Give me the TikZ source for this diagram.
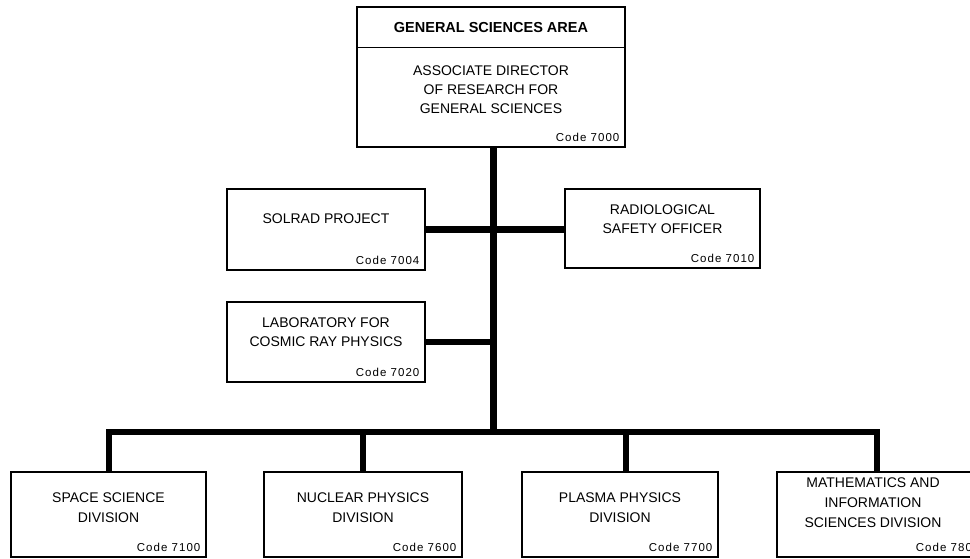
\documentclass[tikz,border=0pt]{standalone}
\usepackage{fontspec}
\setmainfont{Liberation Sans}
\newfontfamily\codefont[LetterSpace=9]{Liberation Sans}
\usetikzlibrary{calc}
\begin{document}
\begin{tikzpicture}[x=1pt,y=-1pt,
  box/.style={draw, line width=1.1pt, inner sep=0pt},
  lbl/.style={align=center, font=\fontsize{14}{19}\selectfont, inner sep=0pt},
  lblb/.style={align=center, font=\fontsize{14}{20.5}\selectfont, inner sep=0pt},
  hdr/.style={font=\bfseries\fontsize{14.5}{18}\selectfont, inner sep=0pt},
  codelbl/.style={font=\codefont\fontsize{11.5}{13}\selectfont, anchor=base east, inner sep=0pt},
  conn/.style={line width=6pt, line join=miter, line cap=butt},
  trunk/.style={line width=7pt, line cap=butt}]
\useasboundingbox (0,0) rectangle (970,559);

% top box
\node[box, minimum width=268pt, minimum height=140pt] (top) at (491,77) {};
\draw[line width=1.1pt] ($(top.north west)+(0,41)$) -- ($(top.north east)+(0,41)$);
\node[hdr] (topH) at (491,28) {GENERAL SCIENCES AREA};
\node[lbl] (topT) at (491,90) {ASSOCIATE DIRECTOR\\OF RESEARCH FOR\\GENERAL SCIENCES};
\node[codelbl] (topC) at ($(top.south east)+(-6,-6)$) {Code 7000};

% staff boxes
\node[box, minimum width=198pt, minimum height=81pt] (sol) at (326,229.5) {};
\node[lbl] (solT) at (326,219) {SOLRAD PROJECT};
\node[codelbl] (solC) at ($(sol.south east)+(-6,-6)$) {Code 7004};

\node[box, minimum width=195pt, minimum height=79pt] (rad) at (662.5,228.5) {};
\node[lbl] (radT) at (662.5,219.5) {RADIOLOGICAL\\SAFETY OFFICER};
\node[codelbl] (radC) at ($(rad.south east)+(-6,-6)$) {Code 7010};

\node[box, minimum width=198pt, minimum height=80pt] (lab) at (326,342) {};
\node[lbl] (labT) at (326,332) {LABORATORY FOR\\COSMIC RAY PHYSICS};
\node[codelbl] (labC) at ($(lab.south east)+(-6,-6)$) {Code 7020};

% divisions
\node[box, minimum width=195pt, minimum height=85pt] (sp) at (108.5,514.5) {};
\node[lblb] (spT) at (108.5,507.5) {SPACE SCIENCE\\DIVISION};
\node[codelbl] (spC) at ($(sp.south east)+(-6,-6)$) {Code 7100};

\node[box, minimum width=198pt, minimum height=85pt] (np) at (363,514.5) {};
\node[lblb] (npT) at (363,507.5) {NUCLEAR PHYSICS\\DIVISION};
\node[codelbl] (npC) at ($(np.south east)+(-6,-6)$) {Code 7600};

\node[box, minimum width=196pt, minimum height=85pt] (pp) at (620,514.5) {};
\node[lblb] (ppT) at (620,507.5) {PLASMA PHYSICS\\DIVISION};
\node[codelbl] (ppC) at ($(pp.south east)+(-6,-6)$) {Code 7700};

\node[box, minimum width=208pt, minimum height=85pt] (ma) at (881,514.5) {};
\node[lbl, font=\fontsize{14}{20}\selectfont] (maT) at (873,503) {MATHEMATICS AND\\INFORMATION\\SCIENCES DIVISION};
\node[codelbl] (maC) at ($(ma.south east)+(-6,-6)$) {Code 7800};

% connectors
\coordinate (tb) at (493,432);
\draw[trunk] ([xshift=2pt]top.south) -- ([yshift=-3pt]tb);
\draw[conn] (sol.east) -- (sol.east -| rad.west);
\draw[conn] (lab.east) -- (lab.east -| tb);
\draw[conn] (sp.north) -- (sp.north |- tb) -- ([xshift=-4pt]ma.north |- tb) -- ([xshift=-4pt]ma.north);
\draw[conn] (np.north) -- (np.north |- tb);
\draw[conn] ([xshift=6pt]pp.north) -- ([xshift=6pt]pp.north |- tb);
\end{tikzpicture}
\end{document}
